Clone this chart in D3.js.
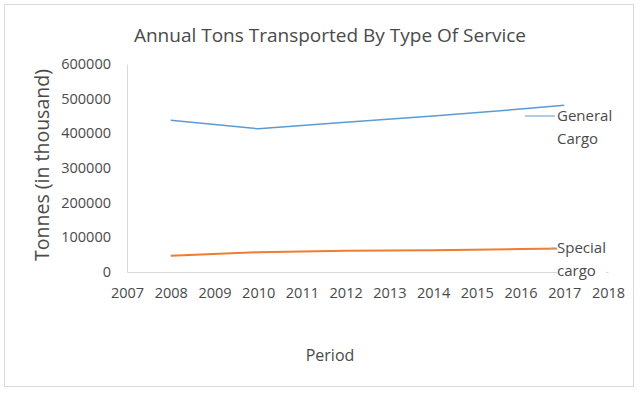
<!DOCTYPE html>
<html><head><meta charset="utf-8">
<script src="https://cdn.jsdelivr.net/npm/d3@7/dist/d3.min.js"></script>
<style>body{margin:0;background:#fff;} text{font-family:"Open Sans",sans-serif;fill:#4a4a4a;}</style>
</head><body><svg id="c" width="638" height="394"></svg>
<script>
const years = [2008, 2010, 2012, 2014, 2016, 2017];
const generalCargo = [438000, 413000, 432000, 450000, 470000, 481000];
const specialCargo = [47000, 57000, 61000, 63000, 66000, 68000];
const xTicks = [2007,2008,2009,2010,2011,2012,2013,2014,2015,2016,2017,2018];
const yTicks = [0,100000,200000,300000,400000,500000,600000];
const seriesNames = [["General","Cargo"],["Special","cargo"]];

const svg = d3.select("#c");
svg.append("rect").attr("x",4.5).attr("y",4.5).attr("width",629).attr("height",382)
  .attr("fill","#fff").attr("stroke","#d9d9d9");

const x = d3.scaleLinear().domain([2007,2018]).range([127,608]);
const y = d3.scaleLinear().domain([0,600000]).range([272,64]);

svg.append("text").attr("x",330).attr("y",42).attr("text-anchor","middle")
  .style("font-size","19px").text("Annual Tons Transported  By Type Of Service");

const xa = svg.append("g").attr("transform","translate(0,272)")
  .call(d3.axisBottom(x).tickValues(xTicks).tickFormat(d3.format("d")).tickSize(0).tickPadding(16));
xa.select(".domain").attr("stroke","#d9d9d9");
xa.selectAll("text").style("font-size","14.5px").style("font-family","Open Sans").attr("fill","#4a4a4a");

const ya = svg.append("g").attr("transform","translate(127,0)")
  .call(d3.axisLeft(y).tickValues(yTicks).tickFormat(d3.format("d")).tickSize(0).tickPadding(16));
ya.select(".domain").attr("stroke","#d9d9d9");
ya.selectAll("text").style("font-size","14.5px").style("font-family","Open Sans").attr("fill","#4a4a4a");

svg.append("text").attr("transform","translate(49,165) rotate(-90)").attr("text-anchor","middle")
  .style("font-size","19.5px").text("Tonnes (in thousand)");
svg.append("text").attr("x",330).attr("y",361).attr("text-anchor","middle")
  .style("font-size","16px").text("Period");

const line = d3.line().x((d,i)=>x(years[i])).y(d=>y(d));
svg.append("path").datum(generalCargo).attr("d",line).attr("fill","none").attr("stroke","#5b9bd5").attr("stroke-width",1.5);
svg.append("path").datum(specialCargo).attr("d",line).attr("fill","none").attr("stroke","#ed7d31").attr("stroke-width",2);

// data labels
function label(lines, lx, ly, leaderFrom, color){
  const g = svg.append("g");
  g.append("line").attr("x1",leaderFrom[0]).attr("y1",leaderFrom[1]).attr("x2",lx-2).attr("y2",ly)
    .attr("stroke",color).attr("stroke-width",1);
  const bg = g.append("rect").attr("fill","#fff");
  const t = g.append("text").style("font-size","15px");
  lines.forEach((s,i)=>t.append("tspan").attr("x",lx).attr("y",ly+5+i*23).text(s));
  const b = t.node().getBBox();
  bg.attr("x",b.x).attr("y",b.y+2).attr("width",b.width).attr("height",b.height-4);
}
label(seriesNames[0], 557, 116, [525,116], "#5b9bd5");
label(seriesNames[1], 557, 248, [x(2017)-14, y(specialCargo[5])], "#a6a6a6");
</script></body></html>
